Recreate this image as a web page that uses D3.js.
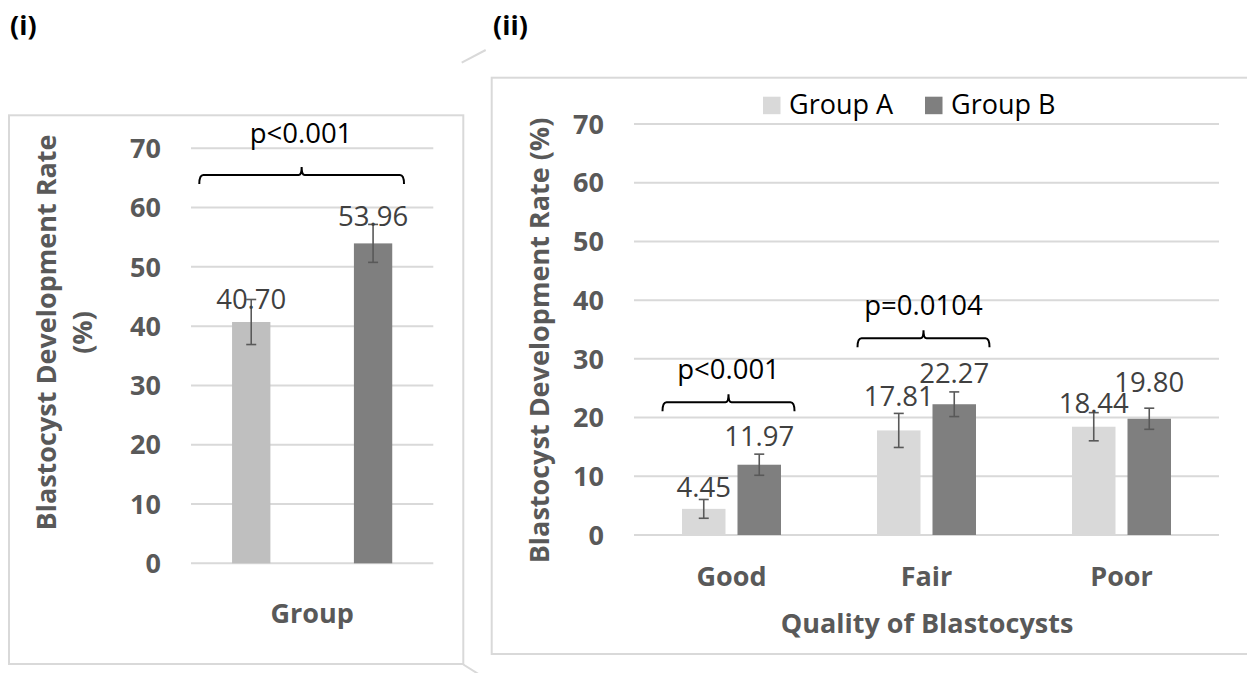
<!DOCTYPE html>
<meta charset="utf-8">
<script src="https://d3js.org/d3.v7.min.js"></script>
<style>
  body { margin: 0; background: #fff; }
  text { font-family: "Open Sans", "Noto Sans", sans-serif; }
</style>
<body>
<div id="chart"></div>
<script>

// ---- data ----
var seriesNames = ["Group A", "Group B"]
var yTicks = [0, 10, 20, 30, 40, 50, 60, 70]

// panel (i): one category, two groups
var overallCategory = ["Group"]
var overallValues = [40.70, 53.96]
var overallErrors = [3.8, 3.2]

// panel (ii): quality of blastocysts
var qualityCategories = ["Good", "Fair", "Poor"]
var groupAValues = [4.45, 17.81, 18.44]
var groupBValues = [11.97, 22.27, 19.80]
var groupAErrors = [1.6, 2.9, 2.4]
var groupBErrors = [1.8, 2.1, 1.8]

// significance brackets
var overallP = "p<0.001"
var qualityP = ["p<0.001", "p=0.0104"]   // Good, Fair
var qualityPLevel = [22.6, 33.5]          // bracket height in axis units
var overallPLevel = 65.5

var width = 1247, height = 673
var grey = "#595959", grid = "#d9d9d9"

var svg = d3.select("#chart").append("svg")
  .attr("width", width)
  .attr("height", height)

// panel frames + callout lines
svg.append("rect").attr("x", 9).attr("y", 115.3).attr("width", 454.3).attr("height", 548.7)
  .attr("fill", "none").attr("stroke", grid).attr("stroke-width", 2)
svg.append("rect").attr("x", 491.7).attr("y", 77.7).attr("width", 800).attr("height", 576.3)
  .attr("fill", "none").attr("stroke", grid).attr("stroke-width", 2)
svg.append("line").attr("x1", 461.7).attr("y1", 62.7).attr("x2", 485.7).attr("y2", 50)
  .attr("stroke", grid).attr("stroke-width", 2)
svg.append("line").attr("x1", 463.3).attr("y1", 664.5).attr("x2", 480).attr("y2", 675)
  .attr("stroke", grid).attr("stroke-width", 2)

svg.append("text").attr("x", 10).attr("y", 35).text("(i)")
  .style("font-size", "27px").style("font-weight", "bold").attr("fill", "#000")
svg.append("text").attr("x", 493).attr("y", 35).text("(ii)")
  .style("font-size", "27px").style("font-weight", "bold").attr("fill", "#000")

function brace(g, x1, x2, y) {
  var xc = (x1 + x2) / 2
  var p = "M" + x1 + "," + (y + 9) + " Q" + x1 + "," + y + " " + (x1 + 4) + "," + y +
    " L" + (xc - 3) + "," + y + " Q" + xc + "," + y + " " + xc + "," + (y - 8) +
    " Q" + xc + "," + y + " " + (xc + 3) + "," + y +
    " L" + (x2 - 4) + "," + y + " Q" + x2 + "," + y + " " + x2 + "," + (y + 9)
  g.append("path").attr("d", p).attr("fill", "none").attr("stroke", "#000").attr("stroke-width", 2)
}

function yAxis(g, y, left, right, labelX) {
  g.selectAll(".grid").data(yTicks).enter().append("line")
    .attr("x1", left).attr("x2", right)
    .attr("y1", function(d){ return y(d) }).attr("y2", function(d){ return y(d) })
    .attr("stroke", grid).attr("stroke-width", 2)
  g.selectAll(".tick").data(yTicks).enter().append("text")
    .attr("x", labelX).attr("y", function(d){ return y(d) }).attr("dy", "0.36em")
    .attr("text-anchor", "end")
    .style("font-size", "27px").style("font-weight", "bold").attr("fill", grey)
    .text(function(d){ return d })
}

function errorBar(g, cx, y, v, e) {
  var cap = 5
  g.append("line").attr("x1", cx).attr("x2", cx).attr("y1", y(v + e)).attr("y2", y(v - e))
    .attr("stroke", "#595959").attr("stroke-width", 1.6)
  ;[v + e, v - e].forEach(function(t){
    g.append("line").attr("x1", cx - cap).attr("x2", cx + cap).attr("y1", y(t)).attr("y2", y(t))
      .attr("stroke", "#595959").attr("stroke-width", 1.6)
  })
}

// ---------- panel (i) ----------
var g1 = svg.append("g")
var y1 = d3.scaleLinear().domain([0, 70]).range([563.3, 148.3])
var xc1 = d3.scaleBand().domain(overallCategory).range([191, 433.3])
var xs1 = d3.scaleBand().domain(seriesNames).range([0, xc1.bandwidth()])
  .paddingInner(0.6855).paddingOuter(0.337)
var colors1 = ["#bfbfbf", "#7f7f7f"]
var lift1 = [12.7, 17.3]

yAxis(g1, y1, 191, 433.3, 161)

overallValues.forEach(function(v, i){
  var x = xc1("Group") + xs1(seriesNames[i])
  g1.append("rect").attr("x", x).attr("width", xs1.bandwidth())
    .attr("y", y1(v)).attr("height", y1(0) - y1(v)).attr("fill", colors1[i])
  errorBar(g1, x + xs1.bandwidth() / 2, y1, v, overallErrors[i])
  g1.append("text").attr("x", x + xs1.bandwidth() / 2).attr("y", y1(v) - lift1[i])
    .attr("text-anchor", "middle").style("font-size", "27.5px").attr("fill", "#404040")
    .text(v.toFixed(2))
})

brace(g1, 199.3, 404, y1(overallPLevel))
g1.append("text").attr("x", 301).attr("y", 142.7).attr("text-anchor", "middle")
  .style("font-size", "27.5px").attr("fill", "#000").text(overallP)

g1.append("text").attr("x", xc1("Group") + xc1.bandwidth() / 2).attr("y", 623)
  .attr("text-anchor", "middle").style("font-size", "27px").style("font-weight", "bold")
  .attr("fill", grey).text("Group")

var t1 = g1.append("text").attr("transform", "translate(55.5,332.5) rotate(-90)")
  .attr("text-anchor", "middle").style("font-size", "27px").style("font-weight", "bold").attr("fill", grey)
t1.append("tspan").attr("x", 0).attr("y", 0).text("Blastocyst Development Rate")
t1.append("tspan").attr("x", 0).attr("y", 36.5).text("(%)")

// ---------- panel (ii) ----------
var g2 = svg.append("g")
var y2 = d3.scaleLinear().domain([0, 70]).range([535, 124])
var xc2 = d3.scaleBand().domain(qualityCategories).range([634, 1219])
var xs2 = d3.scaleBand().domain(seriesNames).range([0, xc2.bandwidth()])
  .paddingInner(0.2162).paddingOuter(0.8649)
var colors2 = ["#d9d9d9", "#7f7f7f"]
var values2 = [groupAValues, groupBValues]
var errors2 = [groupAErrors, groupBErrors]
var lift2 = [[12.3, 24, 14], [18.3, 21.7, 26.3]]

yAxis(g2, y2, 634, 1219, 604)

seriesNames.forEach(function(s, si){
  qualityCategories.forEach(function(c, ci){
    var v = values2[si][ci]
    var x = xc2(c) + xs2(s)
    var cx = x + xs2.bandwidth() / 2
    g2.append("rect").attr("x", x).attr("width", xs2.bandwidth())
      .attr("y", y2(v)).attr("height", y2(0) - y2(v)).attr("fill", colors2[si])
    errorBar(g2, cx, y2, v, errors2[si][ci])
    g2.append("text").attr("x", cx).attr("y", y2(v) - lift2[si][ci])
      .attr("text-anchor", "middle").style("font-size", "27.5px").attr("fill", "#404040")
      .text(v.toFixed(2))
  })
})

qualityP.forEach(function(p, i){
  var c = qualityCategories[i]
  var mid = xc2(c) + xc2.bandwidth() / 2 - 3
  brace(g2, mid - 66, mid + 66, y2(qualityPLevel[i]))
  g2.append("text").attr("x", mid).attr("y", y2(qualityPLevel[i]) - 23.5)
    .attr("text-anchor", "middle").style("font-size", "27.5px").attr("fill", "#000").text(p)
})

g2.selectAll(".cat").data(qualityCategories).enter().append("text")
  .attr("x", function(d){ return xc2(d) + xc2.bandwidth() / 2 }).attr("y", 586.3)
  .attr("text-anchor", "middle").style("font-size", "27px").style("font-weight", "bold")
  .attr("fill", grey).text(function(d){ return d })

g2.append("text").attr("x", 927).attr("y", 633).attr("text-anchor", "middle")
  .style("font-size", "27px").style("font-weight", "bold").attr("fill", grey)
  .text("Quality of Blastocysts")

g2.append("text").attr("transform", "translate(549,340.5) rotate(-90)")
  .attr("text-anchor", "middle").style("font-size", "27px").style("font-weight", "bold")
  .attr("fill", grey).text("Blastocyst Development Rate (%)")

// legend
var legendX = [763, 925]
seriesNames.forEach(function(s, i){
  g2.append("rect").attr("x", legendX[i]).attr("y", 96.7).attr("width", 17.5).attr("height", 17.5)
    .attr("fill", colors2[i])
  g2.append("text").attr("x", legendX[i] + 26).attr("y", 114)
    .style("font-size", "27px").attr("fill", "#000").text(s)
})

</script>
</body>
